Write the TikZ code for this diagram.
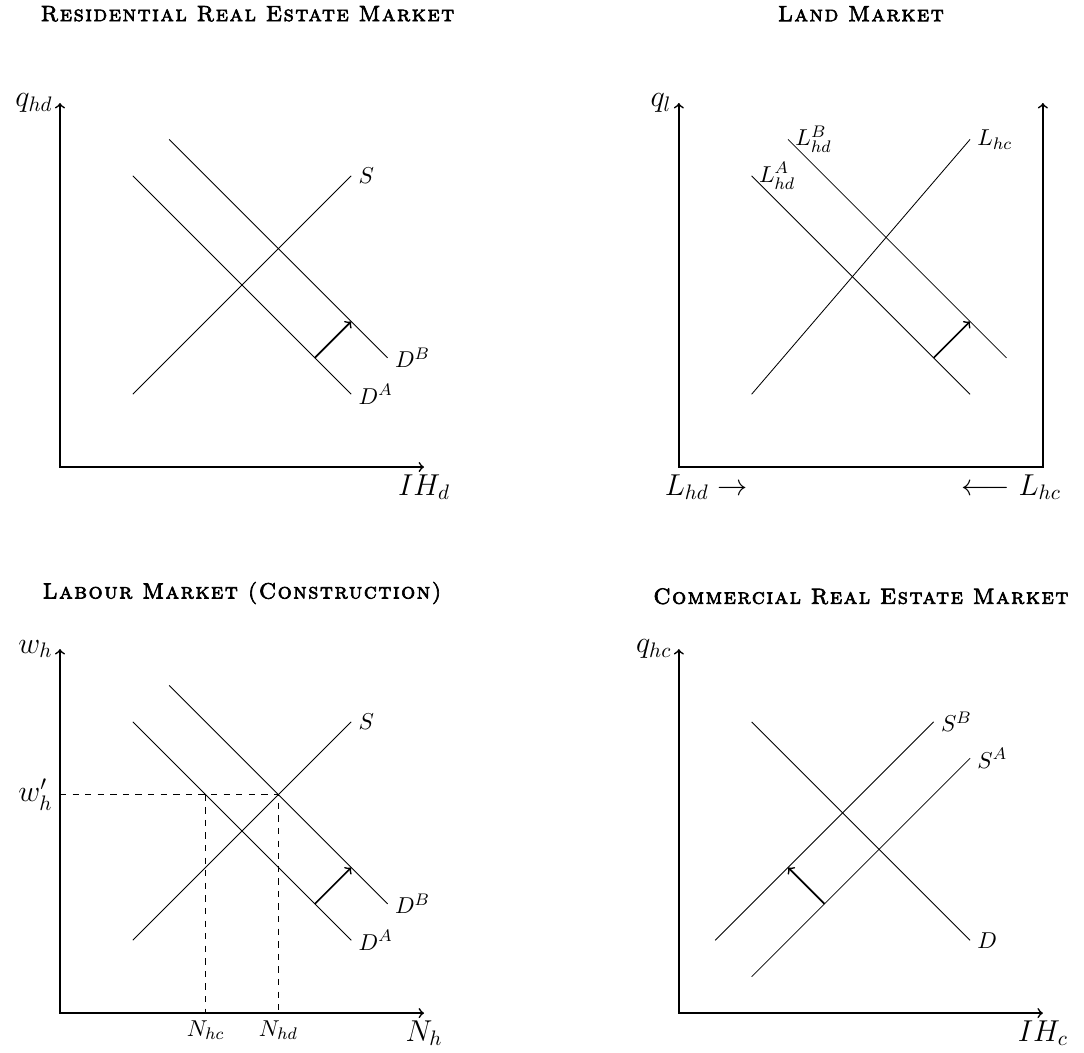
\documentclass[tikz,border=0pt]{standalone}
\usepackage{amsmath,amssymb}
\usepackage{fontspec}
\newfontface\titlefont{lmromancaps10-regular.otf}[FakeBold=3,LetterSpace=7]
\usepackage{tikz}
\usetikzlibrary{positioning}

\begin{document}
\begin{tikzpicture}[x=0.61cm,y=0.61cm,
  axis/.style={thick},
  shiftarrow/.style={thick,->},
  curvelabel/.style={anchor=west,font=\fontsize{10.95}{13.6}\selectfont},
  axislabel/.style={font=\Large},
  paneltitle/.style={font=\fontsize{10.5}{12}\titlefont}]
\useasboundingbox (-1.648,-16.07) rectangle (28.13,12.83);

% ---------- residential real estate market (top left) ----------
\node[paneltitle] (tres) at (5.15,12.45) {Residential Real Estate Market};
\draw[axis,<->] (0,10) -- (0,0) -- (10,0);
\node[axislabel,anchor=east]  (yres) at (0,10) {$q_{hd}$};
\node[axislabel,anchor=north] (xres) at (10,0) {$IH_d$};
\draw (2,2) -- (8,8) node[curvelabel] (sres) {$S$};
\draw (2,8) -- (8,2) node[curvelabel] (dares) {$D^A$};
\draw (3,9) -- (9,3) node[curvelabel] (dbres) {$D^B$};
\draw[shiftarrow] (7,3) -- (8,4);

% ---------- land market (top right) ----------
\node[paneltitle] (tland) at (22,12.45) {Land Market};
\draw[axis,<->] (17,10) -- (17,0) -- (27,0) -- (27,10);
\node[axislabel,anchor=east]  (yland) at (17,10) {$q_l$};
\node[axislabel,anchor=north] (lhd) at (17.75,0) {$L_{hd}\rightarrow$};
\node[axislabel,anchor=north] (lhc) at (26.13,0) {$\longleftarrow L_{hc}$};
\draw (19,2) -- (25,9) node[curvelabel] (lhcl) {$L_{hc}$};
\draw (25,2) -- (19,8) node[curvelabel] (lhda) {$L_{hd}^A$};
\draw (26,3) -- (20,9) node[curvelabel] (lhdb) {$L_{hd}^B$};
\draw[shiftarrow] (24,3) -- (25,4);

% ---------- labour market (bottom left) ----------
\node[paneltitle] (tlab) at (5,-3.46) {Labour Market (Construction)};
\draw[axis,<->] (0,-5) -- (0,-15) -- (10,-15);
\node[axislabel,anchor=east]  (ylab) at (0,-5) {$w_h$};
\node[axislabel,anchor=north] (xlab) at (10,-15) {$N_h$};
\draw (2,-13) -- (8,-7) node[curvelabel] (slab) {$S$};
\draw (2,-7) -- (8,-13) node[curvelabel] (dalab) {$D^A$};
\draw (3,-6) -- (9,-12) node[curvelabel] (dblab) {$D^B$};
\draw[shiftarrow] (7,-12) -- (8,-11);
\coordinate (wpr) at (0,-9);
\coordinate (nhc) at (4,-15);
\coordinate (nhd) at (6,-15);
\draw[dashed] (wpr) -- (6,-9) -- (nhd);
\draw[dashed] (4,-9) -- (nhc);
\node[axislabel,anchor=east] (wprl) at (wpr) {$w_h'$};
\node[curvelabel,anchor=north] (nhcl) at (nhc) {$N_{hc}$};
\node[curvelabel,anchor=north] (nhdl) at (nhd) {$N_{hd}$};

% ---------- commercial real estate market (bottom right) ----------
\node[paneltitle] (tcom) at (22,-3.55) {Commercial Real Estate Market};
\draw[axis,<->] (17,-5) -- (17,-15) -- (27,-15);
\node[axislabel,anchor=east]  (ycom) at (17,-5) {$q_{hc}$};
\node[axislabel,anchor=north] (xcom) at (27,-15) {$IH_c$};
\draw (19,-7) -- (25,-13) node[curvelabel] (dcom) {$D$};
\draw (18,-13) -- (24,-7) node[curvelabel] (sbcom) {$S^B$};
\draw (19,-14) -- (25,-8) node[curvelabel] (sacom) {$S^A$};
\draw[shiftarrow] (21,-12) -- (20,-11);
\end{tikzpicture}
\end{document}
